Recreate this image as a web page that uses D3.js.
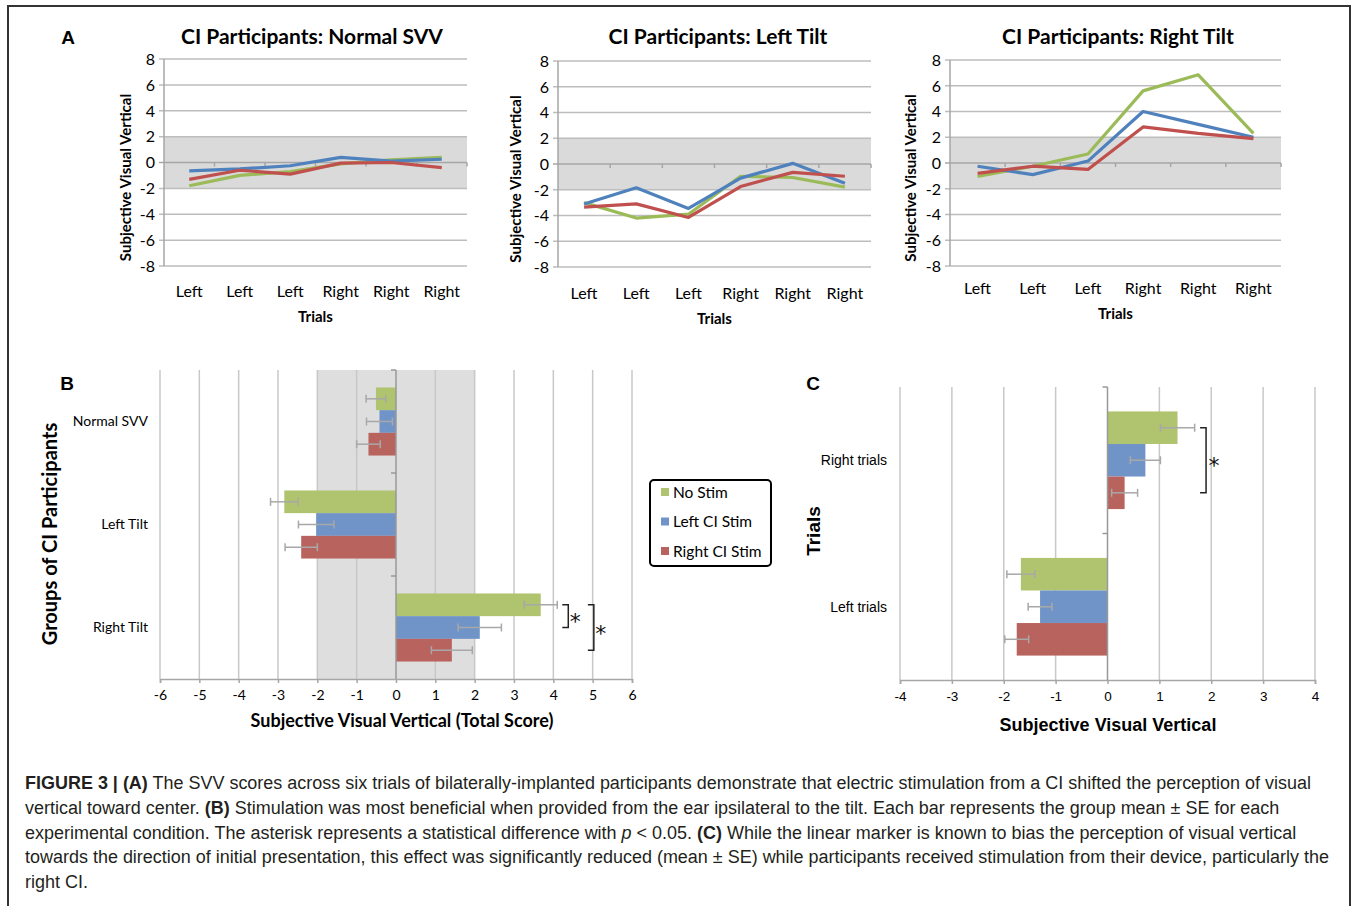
<!DOCTYPE html>
<html>
<head>
<meta charset="utf-8">
<script src="https://cdn.jsdelivr.net/npm/d3@7"></script>
<style>
  body { margin: 0; background: #fff; }
  svg { display: block; }
</style>
</head>
<body>
<script>
// ---- data ----
const trials = ["Left", "Left", "Left", "Right", "Right", "Right"];
const seriesNames = ["No Stim", "Left CI Stim", "Right CI Stim"];
const yTicksA = [-8, -6, -4, -2, 0, 2, 4, 6, 8];

// panel A, one array per stimulation condition
const normalNoStim = [-1.8, -1.0, -0.7, -0.1, 0.2, 0.4];
const normalLeftCI = [-0.65, -0.5, -0.25, 0.4, 0.1, 0.25];
const normalRightCI = [-1.3, -0.6, -0.9, -0.05, 0.0, -0.4];

const leftNoStim = [-3.0, -4.2, -3.9, -0.95, -1.05, -1.8];
const leftLeftCI = [-3.1, -1.85, -3.45, -1.1, 0.05, -1.5];
const leftRightCI = [-3.35, -3.1, -4.15, -1.75, -0.65, -0.95];

const rightNoStim = [-1.05, -0.25, 0.7, 5.6, 6.85, 2.3];
const rightLeftCI = [-0.25, -0.9, 0.15, 4.0, 3.0, 2.0];
const rightRightCI = [-0.8, -0.25, -0.5, 2.8, 2.3, 1.9];

// panel B
const groups = ["Normal SVV", "Left Tilt", "Right Tilt"];
const groupNoStim = [-0.51, -2.84, 3.68];
const groupNoStimSE = [0.25, 0.35, 0.42];
const groupLeftCI = [-0.42, -2.03, 2.13];
const groupLeftCISE = [0.33, 0.45, 0.55];
const groupRightCI = [-0.7, -2.41, 1.42];
const groupRightCISE = [0.3, 0.41, 0.52];
const xTicksB = [-6, -5, -4, -3, -2, -1, 0, 1, 2, 3, 4, 5, 6];

// panel C
const trialGroups = ["Right trials", "Left trials"];
const trialNoStim = [1.35, -1.67];
const trialNoStimSE = [0.33, 0.27];
const trialLeftCI = [0.73, -1.30];
const trialLeftCISE = [0.29, 0.23];
const trialRightCI = [0.33, -1.75];
const trialRightCISE = [0.25, 0.23];
const xTicksC = [-4, -3, -2, -1, 0, 1, 2, 3, 4];

const lineColors = ["#9bbb59", "#4f81bd", "#c0504d"];
const barColors = ["#b0c46f", "#7094c8", "#b9635e"];

const svg = d3.select("body").append("svg")
  .attr("width", 1354)
  .attr("height", 906);

svg.append("rect").attr("width", 1354).attr("height", 906).attr("fill", "#fff");

// outer frame
svg.append("path")
  .attr("d", "M8,906V6H1350V906")
  .attr("fill", "none")
  .attr("stroke", "#333")
  .attr("stroke-width", 2);

const calibri = "Lato, 'Open Sans', sans-serif";
const arial = "'Liberation Sans', Arial, sans-serif";

function panelLetter(txt, x, y) {
  svg.append("text")
    .attr("x", x).attr("y", y)
    .attr("text-anchor", "middle")
    .attr("font-family", arial)
    .attr("font-weight", "bold")
    .attr("font-size", 19)
    .text(txt);
}

// ---- panel A: line charts ----
function lineChart(cfg, title, series) {
  let x = d3.scaleBand().domain(d3.range(trials.length)).range([cfg.x0, cfg.x1]);
  let y = d3.scaleLinear().domain([-8, 8]).range([cfg.yBot, cfg.yTop]);
  let g = svg.append("g");

  // shaded normal range
  g.append("rect")
    .attr("x", cfg.x0)
    .attr("y", y(2))
    .attr("width", cfg.x1 - cfg.x0)
    .attr("height", y(-2) - y(2))
    .attr("fill", "#dadada");

  // gridlines
  g.selectAll(".grid")
    .data(yTicksA.filter(d => d !== 0))
    .enter().append("line")
    .attr("x1", cfg.x0 - 5).attr("x2", cfg.x1)
    .attr("y1", d => y(d)).attr("y2", d => y(d))
    .attr("stroke", "#bdbdbd")
    .attr("stroke-width", 1.5);

  // left axis line
  g.append("line")
    .attr("x1", cfg.x0).attr("x2", cfg.x0)
    .attr("y1", y(8)).attr("y2", y(-8))
    .attr("stroke", "#a6a6a6").attr("stroke-width", 1.5);

  // zero line with category boundary ticks
  g.append("line")
    .attr("x1", cfg.x0 - 5).attr("x2", cfg.x1)
    .attr("y1", y(0)).attr("y2", y(0))
    .attr("stroke", "#a6a6a6").attr("stroke-width", 1.5);
  g.selectAll(".btick")
    .data(d3.range(1, trials.length + 1))
    .enter().append("line")
    .attr("x1", d => cfg.x0 + d * x.step())
    .attr("x2", d => cfg.x0 + d * x.step())
    .attr("y1", y(0)).attr("y2", y(0) + 4)
    .attr("stroke", "#a6a6a6").attr("stroke-width", 1.5);

  // y tick labels
  g.selectAll(".ylab")
    .data(yTicksA)
    .enter().append("text")
    .attr("x", cfg.x0 - 9)
    .attr("y", d => y(d))
    .attr("dy", "0.36em")
    .attr("text-anchor", "end")
    .attr("font-family", calibri)
    .attr("font-size", 16)
    .text(d => String(d));

  // category labels
  g.selectAll(".xlab")
    .data(trials)
    .enter().append("text")
    .attr("x", (d, i) => x(i) + x.bandwidth() / 2)
    .attr("y", cfg.labY)
    .attr("text-anchor", "middle")
    .attr("font-family", calibri)
    .attr("font-size", 16)
    .text(d => d);

  g.append("text")
    .attr("x", (cfg.x0 + cfg.x1) / 2)
    .attr("y", cfg.labY + 25)
    .attr("text-anchor", "middle")
    .attr("font-family", calibri)
    .attr("font-weight", "bold")
    .attr("font-size", 15)
    .text("Trials");

  // axis title sits a little below the plot's middle, as in the figure
  g.append("text")
    .attr("transform", "translate(" + cfg.yTitleX + "," + ((cfg.yTop + cfg.yBot) / 2 + 15) + ") rotate(-90)")
    .attr("text-anchor", "middle")
    .attr("font-family", calibri)
    .attr("font-weight", "bold")
    .attr("font-size", 15)
    .text("Subjective Visual Vertical");

  g.append("text")
    .attr("x", cfg.titleX)
    .attr("y", 44)
    .attr("text-anchor", "middle")
    .attr("font-family", calibri)
    .attr("font-weight", "bold")
    .attr("font-size", 21)
    .text(title);

  let line = d3.line()
    .x((d, i) => x(i) + x.bandwidth() / 2)
    .y(d => y(d));

  series.forEach(function(s, k) {
    g.append("path")
      .datum(s)
      .attr("fill", "none")
      .attr("stroke", lineColors[k])
      .attr("stroke-width", 3.2)
      .attr("stroke-linejoin", "round")
      .attr("d", line);
  });
}

lineChart({ x0: 164, x1: 467, yTop: 59, yBot: 266, labY: 297, yTitleX: 131, titleX: 312 },
  "CI Participants: Normal SVV", [normalNoStim, normalLeftCI, normalRightCI]);
lineChart({ x0: 558, x1: 871, yTop: 61, yBot: 267, labY: 299, yTitleX: 521, titleX: 718 },
  "CI Participants: Left Tilt", [leftNoStim, leftLeftCI, leftRightCI]);
lineChart({ x0: 950, x1: 1281, yTop: 60, yBot: 266, labY: 294, yTitleX: 916, titleX: 1118 },
  "CI Participants: Right Tilt", [rightNoStim, rightLeftCI, rightRightCI]);

panelLetter("A", 68, 44);

// ---- panels B and C: horizontal bar charts ----
function barChart(cfg, cats, vals, ses) {
  let x = d3.scaleLinear().domain(cfg.domain).range([cfg.x0, cfg.x1]);
  let y = d3.scaleBand().domain(cats).range([cfg.yTop, cfg.yBot]);
  let ys = d3.scaleBand().domain(seriesNames).range([0, y.bandwidth()]).paddingOuter(cfg.pad);
  let g = svg.append("g");

  if (cfg.shade) {
    g.append("rect")
      .attr("x", x(-2)).attr("width", x(2) - x(-2))
      .attr("y", cfg.yTop).attr("height", cfg.yBot - cfg.yTop)
      .attr("fill", "#dedede");
  }

  g.selectAll(".grid")
    .data(cfg.ticks.filter(d => d !== 0))
    .enter().append("line")
    .attr("x1", d => x(d)).attr("x2", d => x(d))
    .attr("y1", cfg.yTop).attr("y2", cfg.yBot)
    .attr("stroke", "#c8c8c8").attr("stroke-width", 1.5);

  // bottom axis
  let axis = g.append("g")
    .attr("transform", "translate(0," + cfg.yBot + ")")
    .call(d3.axisBottom(x).tickValues(cfg.ticks).tickSize(4).tickPadding(7).tickFormat(d => String(d)));
  axis.select(".domain").attr("stroke", "#a6a6a6").attr("stroke-width", 1.5);
  axis.selectAll(".tick line").attr("stroke", "#a6a6a6").attr("stroke-width", 1.5);
  axis.selectAll(".tick text")
    .attr("font-family", cfg.font)
    .attr("font-size", cfg.tickSize)
    .attr("fill", "#000");

  // bars
  vals.forEach(function(arr, k) {
    g.selectAll(".bar" + k)
      .data(arr)
      .enter().append("rect")
      .attr("x", d => Math.min(x(0), x(d)))
      .attr("width", d => Math.abs(x(d) - x(0)))
      .attr("y", (d, i) => y(cats[i]) + ys(seriesNames[k]))
      .attr("height", ys.bandwidth())
      .attr("fill", barColors[k]);
  });

  // zero line with category ticks
  g.append("line")
    .attr("x1", x(0)).attr("x2", x(0))
    .attr("y1", cfg.yTop).attr("y2", cfg.yBot)
    .attr("stroke", "#999").attr("stroke-width", 1.5);
  g.selectAll(".ctick")
    .data(d3.range(cats.length))
    .enter().append("line")
    .attr("x1", x(0) - 5).attr("x2", x(0))
    .attr("y1", d => cfg.yTop + d * y.step())
    .attr("y2", d => cfg.yTop + d * y.step())
    .attr("stroke", "#999").attr("stroke-width", 1.5);

  // error bars
  vals.forEach(function(arr, k) {
    arr.forEach(function(v, i) {
      let cy = y(cats[i]) + ys(seriesNames[k]) + ys.bandwidth() / 2;
      let e = ses[k][i];
      let eb = g.append("g").attr("stroke", "#a8a8a8").attr("stroke-width", 1.5);
      eb.append("line").attr("x1", x(v - e)).attr("x2", x(v + e)).attr("y1", cy).attr("y2", cy);
      eb.append("line").attr("x1", x(v - e)).attr("x2", x(v - e)).attr("y1", cy - 4).attr("y2", cy + 4);
      eb.append("line").attr("x1", x(v + e)).attr("x2", x(v + e)).attr("y1", cy - 4).attr("y2", cy + 4);
    });
  });

  // category labels
  g.selectAll(".clab")
    .data(cats)
    .enter().append("text")
    .attr("x", cfg.labX)
    .attr("y", d => y(d) + y.bandwidth() / 2)
    .attr("dy", "0.35em")
    .attr("text-anchor", "end")
    .attr("font-family", cfg.font)
    .attr("font-size", cfg.labSize)
    .text(d => d);

  return { x: x, y: y, ys: ys, g: g };
}

function bracket(c, cat, fromSeries, toSeries, xv, starDx) {
  let y1 = c.y(cat) + c.ys(fromSeries) + c.ys.bandwidth() / 2;
  let y2 = c.y(cat) + c.ys(toSeries) + c.ys.bandwidth() / 2;
  let bx = c.x(xv);
  c.g.append("path")
    .attr("d", "M" + (bx - 6) + "," + y1 + "H" + bx + "V" + y2 + "H" + (bx - 6))
    .attr("fill", "none")
    .attr("stroke", "#222")
    .attr("stroke-width", 1.5);
  c.g.append("text")
    .attr("x", bx + starDx)
    .attr("y", (y1 + y2) / 2 + 13)
    .attr("text-anchor", "middle")
    .attr("font-family", "'DejaVu Sans', sans-serif")
    .attr("font-size", 22)
    .attr("fill", "#111")
    .text("*");
}

let chartB = barChart({
  domain: [-6, 6], x0: 160, x1: 632, yTop: 370, yBot: 679, pad: 0.77, shade: true,
  ticks: xTicksB, font: calibri, tickSize: 14, labSize: 14, labX: 148
}, groups,
  [groupNoStim, groupLeftCI, groupRightCI],
  [groupNoStimSE, groupLeftCISE, groupRightCISE]);

bracket(chartB, "Right Tilt", "No Stim", "Left CI Stim", 4.38, 7);
bracket(chartB, "Right Tilt", "No Stim", "Right CI Stim", 5.03, 7);

svg.append("text")
  .attr("x", 402).attr("y", 727)
  .attr("text-anchor", "middle")
  .attr("font-family", calibri)
  .attr("font-weight", "bold")
  .attr("font-size", 18)
  .text("Subjective Visual Vertical (Total Score)");

svg.append("text")
  .attr("transform", "translate(57,534) rotate(-90)")
  .attr("text-anchor", "middle")
  .attr("font-family", calibri)
  .attr("font-weight", "bold")
  .attr("font-size", 20)
  .text("Groups of CI Participants");

panelLetter("B", 67, 390);

// legend
let legend = svg.append("g");
legend.append("rect")
  .attr("x", 650).attr("y", 480)
  .attr("width", 121).attr("height", 86)
  .attr("rx", 4)
  .attr("fill", "#fff")
  .attr("stroke", "#000")
  .attr("stroke-width", 2);
seriesNames.forEach(function(name, k) {
  let cy = 492 + k * 29.5;
  legend.append("rect")
    .attr("x", 661).attr("y", cy - 4)
    .attr("width", 8).attr("height", 8)
    .attr("fill", barColors[k]);
  legend.append("text")
    .attr("x", 673).attr("y", cy)
    .attr("dy", "0.36em")
    .attr("font-family", calibri)
    .attr("font-size", 15.5)
    .text(name);
});

let chartC = barChart({
  domain: [-4, 4], x0: 900, x1: 1315, yTop: 387, yBot: 680, pad: 0.75, shade: false,
  ticks: xTicksC, font: arial, tickSize: 13.5, labSize: 14, labX: 887
}, trialGroups,
  [trialNoStim, trialLeftCI, trialRightCI],
  [trialNoStimSE, trialLeftCISE, trialRightCISE]);

bracket(chartC, "Right trials", "No Stim", "Right CI Stim", 1.9, 8);

svg.append("text")
  .attr("x", 1108).attr("y", 731)
  .attr("text-anchor", "middle")
  .attr("font-family", arial)
  .attr("font-weight", "bold")
  .attr("font-size", 18)
  .text("Subjective Visual Vertical");

svg.append("text")
  .attr("transform", "translate(820,531) rotate(-90)")
  .attr("text-anchor", "middle")
  .attr("font-family", arial)
  .attr("font-weight", "bold")
  .attr("font-size", 19)
  .text("Trials");

panelLetter("C", 813, 390);

// ---- caption ----
const captionLines = [
  [["b", "FIGURE 3 | (A)"], ["n", " The SVV scores across six trials of bilaterally-implanted participants demonstrate that electric stimulation from a CI shifted the perception of visual"]],
  [["n", "vertical toward center. "], ["b", "(B)"], ["n", " Stimulation was most beneficial when provided from the ear ipsilateral to the tilt. Each bar represents the group mean \u00b1 SE for each"]],
  [["n", "experimental condition. The asterisk represents a statistical difference with "], ["i", "p"], ["n", " < 0.05. "], ["b", "(C)"], ["n", " While the linear marker is known to bias the perception of visual vertical"]],
  [["n", "towards the direction of initial presentation, this effect was significantly reduced (mean \u00b1 SE) while participants received stimulation from their device, particularly the"]],
  [["n", "right CI."]]
];

let cap = svg.append("g")
  .attr("font-family", arial)
  .attr("fill", "#231f20");
let capTexts = captionLines.map(function(parts, li) {
  let t = cap.append("text")
    .attr("x", 25)
    .attr("y", 789 + li * 24.8)
    .attr("font-size", 16);
  parts.forEach(function(p) {
    t.append("tspan")
      .attr("font-weight", p[0] === "b" ? "bold" : "normal")
      .attr("font-style", p[0] === "i" ? "italic" : "normal")
      .text(p[1]);
  });
  return t;
});
// fit first line to its width in the figure
let w0 = capTexts[0].node().getComputedTextLength();
let fs = 16 * 1287 / w0;
capTexts.forEach(t => t.attr("font-size", fs));
</script>
</body>
</html>
